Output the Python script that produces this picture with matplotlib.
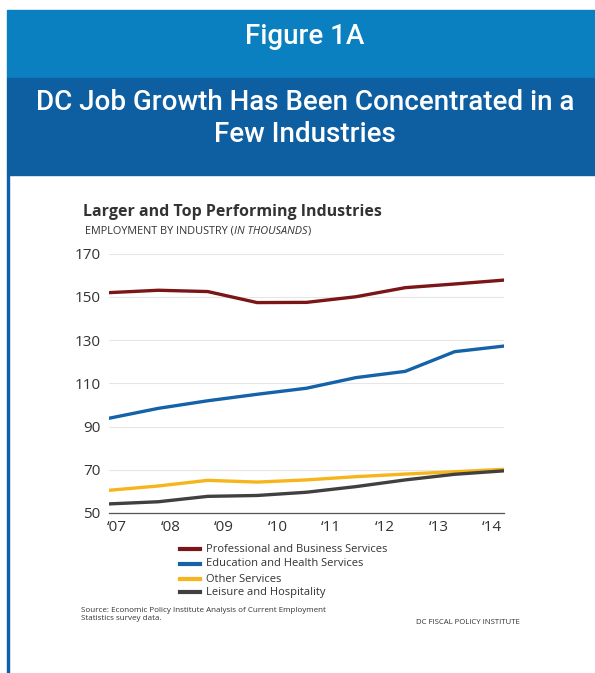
import matplotlib
matplotlib.use("Agg")
from matplotlib import pyplot as plt
from matplotlib.patches import Rectangle
from matplotlib.lines import Line2D

# data (thousands of jobs)
years = [0, 1, 2, 3, 4, 5, 6, 7, 8]
professional = [151.9, 153.0, 152.4, 147.3, 147.4, 150.0, 154.2, 155.9, 157.7]
education = [93.8, 98.4, 101.9, 104.9, 107.7, 112.6, 115.5, 124.6, 127.2]
other = [60.5, 62.5, 65.1, 64.3, 65.3, 66.8, 68.0, 69.1, 70.2]
leisure = [54.2, 55.2, 57.7, 58.1, 59.6, 62.2, 65.3, 67.9, 69.5]
tick_labels = ["\u201807", "\u201808", "\u201809", "\u201810", "\u201811", "\u201812", "\u201813", "\u201814"]
series_names = ["Professional and Business Services", "Education and Health Services",
                "Other Services", "Leisure and Hospitality"]
colors = ["#7b1518", "#1462a8", "#f7b51c", "#404040"]

W, H = 595, 673
fig = plt.figure(figsize=(W / 100, H / 100), dpi=100)
narrow = ["Roboto", "DejaVu Sans"]
body = ["Open Sans", "DejaVu Sans"]

# header bands
fig.patches.append(Rectangle((7 / W, 1 - 78 / H), 1, 68 / H, transform=fig.transFigure,
                             color="#0b80c0", zorder=0))
fig.patches.append(Rectangle((7 / W, 1 - 175 / H), 1, 97 / H, transform=fig.transFigure,
                             color="#0e5fa2", zorder=0))
fig.patches.append(Rectangle((7 / W, 0), 1.6 / W, 1 - 175 / H, transform=fig.transFigure,
                             color="#1060a8", zorder=0))

fig.text(305 / W, 1 - 36 / H, "Figure 1A", color="white", fontsize=20, fontweight="medium",
         ha="center", va="center", family=narrow)
fig.text(305 / W, 1 - 103 / H, "DC Job Growth Has Been Concentrated in a", color="white",
         fontsize=20, fontweight="medium", ha="center", va="center", family=narrow)
fig.text(305 / W, 1 - 134 / H, "Few Industries", color="white",
         fontsize=20, fontweight="medium", ha="center", va="center", family=narrow)

fig.text(83 / W, 1 - 212 / H, "Larger and Top Performing Industries", color="#333333",
         fontsize=11.5, fontweight="bold", ha="left", va="center", family=body)

# subtitle with italic part, pieces placed one after another
renderer = fig.canvas.get_renderer()
x = 85 / W
for piece, st in [("EMPLOYMENT BY INDUSTRY (", "normal"), ("IN THOUSANDS", "italic"), (")", "normal")]:
    t = fig.text(x, 1 - 231 / H, piece, color="#333333", style=st,
                 fontsize=7.8, ha="left", va="center", family=body)
    bb = t.get_window_extent(renderer)
    x = bb.x1 / W

# main axes
left, right = 109 / W, 504 / W
top, bottom = 1 - 253.5 / H, 1 - 513 / H
ax = fig.add_axes([left, bottom, right - left, top - bottom])
for vals, c in zip([professional, education, other, leisure], colors):
    ax.plot(years, vals, color=c, lw=2.4, solid_capstyle="round", zorder=3)

ax.set_xlim(0, 8)
ax.set_ylim(50, 170)
ax.set_yticks([50, 70, 90, 110, 130, 150, 170])
ax.set_xticks([0.16 + i * 1.085 for i in range(8)])
ax.set_xticklabels(tick_labels)
ax.tick_params(length=0, labelsize=11, colors="#333333", pad=5)
ax.tick_params(axis="y", pad=6)
for lab in ax.get_xticklabels() + ax.get_yticklabels():
    lab.set_family(body)
ax.grid(axis="y", color="#e6e6e6", lw=0.8)
ax.set_axisbelow(True)
for s in ["top", "right", "left"]:
    ax.spines[s].set_visible(False)
ax.spines["bottom"].set_color("#555555")
ax.spines["bottom"].set_linewidth(0.9)

# legend drawn by hand
leg_y = [549, 564, 579, 592]
for name, c, y in zip(series_names, colors, leg_y):
    fig.add_artist(Line2D([180 / W, 200 / W], [1 - y / H, 1 - y / H], color=c, lw=3,
                          transform=fig.transFigure))
    fig.text(206 / W, 1 - y / H, name, fontsize=8, color="#333333", va="center", ha="left",
             family=body)

fig.text(81 / W, 1 - 610 / H, "Source: Economic Policy Institute Analysis of Current Employment",
         fontsize=5.8, color="#333333", va="center", ha="left", family=body)
fig.text(81 / W, 1 - 619 / H, "Statistics survey data.",
         fontsize=5.8, color="#333333", va="center", ha="left", family=body)
fig.text(520 / W, 1 - 622 / H, "DC FISCAL POLICY INSTITUTE",
         fontsize=5.6, color="#333333", va="center", ha="right", family=body)

fig.savefig("out.png", dpi=100)
